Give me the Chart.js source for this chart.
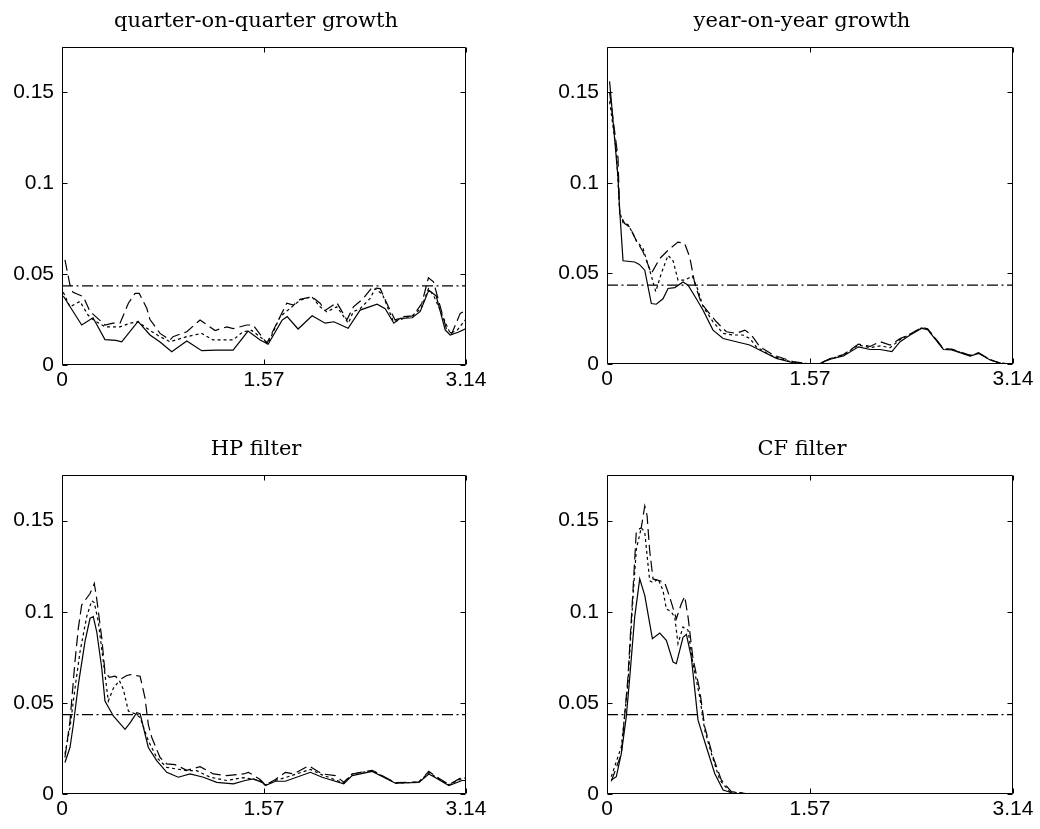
<!DOCTYPE html>
<html>
<head>
<meta charset="utf-8">
<script src="https://cdn.jsdelivr.net/npm/chart.js@4"></script>
<style>
  html, body { margin: 0; padding: 0; background: #fff; width: 1040px; height: 829px; overflow: hidden; }
  body { position: relative; }
  canvas { position: absolute; }
  .title { position: absolute; font-family: 'DejaVu Serif', 'Liberation Serif', serif; font-size: 21px;
           color: #000; text-align: center; white-space: nowrap; line-height: 1; z-index: 2; }
</style>
</head>
<body>
<script>
// Axis ticks shared by all four panels
const xTicks = [0, 1.57, 3.14];
const xTickLabels = ['0', '1.57', '3.14'];
const yTicks = [0, 0.05, 0.1, 0.15];
const yTickLabels = ['0', '0.05', '0.1', '0.15'];

// Reference level drawn as the dash-dot line
const refLevel = 0.0435;

// Spectral curves: [frequency, value] pairs
const qoqSolid = [[0.01,0.038],[0.153,0.022],[0.241,0.026],[0.334,0.014],[0.42,0.0135],[0.464,0.0127],[0.591,0.024],[0.684,0.0165],[0.762,0.0127],[0.853,0.0073],[0.97,0.0132],[1.086,0.0079],[1.198,0.0082],[1.33,0.0082],[1.446,0.0187],[1.54,0.0138],[1.602,0.0114],[1.711,0.0247],[1.75,0.0266],[1.835,0.0198],[1.944,0.0271],[2.045,0.023],[2.113,0.0238],[2.224,0.0202],[2.317,0.0302],[2.449,0.0335],[2.512,0.031],[2.579,0.023],[2.628,0.0257],[2.722,0.026],[2.784,0.0295],[2.851,0.0412],[2.908,0.038],[2.978,0.0193],[3.017,0.0165],[3.079,0.018],[3.14,0.020]];
const qoqDotted = [[0.01,0.040],[0.062,0.032],[0.14,0.035],[0.202,0.0275],[0.241,0.025],[0.334,0.021],[0.451,0.021],[0.529,0.023],[0.591,0.0238],[0.684,0.019],[0.762,0.0156],[0.84,0.0128],[0.97,0.0156],[1.086,0.0174],[1.174,0.0138],[1.33,0.0138],[1.407,0.0183],[1.475,0.019],[1.54,0.0155],[1.602,0.0119],[1.695,0.0266],[1.773,0.0312],[1.851,0.0357],[1.942,0.0376],[2.006,0.032],[2.058,0.0293],[2.136,0.032],[2.226,0.023],[2.263,0.0293],[2.317,0.031],[2.395,0.0367],[2.434,0.042],[2.49,0.039],[2.576,0.0238],[2.63,0.025],[2.729,0.0275],[2.79,0.031],[2.848,0.042],[2.89,0.038],[3.017,0.0174],[3.07,0.019],[3.134,0.0248]];
const qoqDashed = [[0.023,0.0578],[0.062,0.044],[0.086,0.040],[0.166,0.0376],[0.218,0.0293],[0.241,0.028],[0.334,0.022],[0.397,0.023],[0.451,0.023],[0.516,0.034],[0.568,0.0394],[0.60,0.0394],[0.659,0.0312],[0.684,0.025],[0.762,0.0174],[0.84,0.0138],[0.863,0.0156],[0.97,0.0183],[1.073,0.0248],[1.19,0.019],[1.281,0.021],[1.33,0.020],[1.436,0.022],[1.485,0.022],[1.592,0.0119],[1.747,0.034],[1.80,0.033],[1.851,0.0361],[1.942,0.0376],[2.006,0.034],[2.045,0.030],[2.136,0.0343],[2.214,0.0248],[2.265,0.032],[2.343,0.0367],[2.408,0.0425],[2.473,0.042],[2.537,0.032],[2.589,0.0248],[2.654,0.0266],[2.729,0.027],[2.797,0.034],[2.848,0.048],[2.887,0.0458],[2.991,0.019],[3.03,0.0174],[3.095,0.0284],[3.14,0.030]];

const yoySolid = [[0.02,0.156],[0.085,0.103],[0.098,0.085],[0.124,0.057],[0.214,0.0563],[0.25,0.055],[0.292,0.0518],[0.343,0.0334],[0.381,0.033],[0.433,0.036],[0.472,0.0417],[0.524,0.0422],[0.588,0.0453],[0.627,0.0435],[0.691,0.036],[0.743,0.0297],[0.82,0.0187],[0.898,0.0141],[1.0,0.0123],[1.104,0.0105],[1.207,0.0068],[1.31,0.0031],[1.439,0.0007],[1.571,0],[1.635,0],[1.726,0.0026],[1.829,0.0044],[1.945,0.0095],[2.035,0.008],[2.112,0.008],[2.203,0.0068],[2.267,0.0123],[2.345,0.016],[2.435,0.0197],[2.48,0.019],[2.602,0.008],[2.667,0.0078],[2.809,0.0044],[2.873,0.0059],[2.964,0.0022],[3.041,0.0004],[3.14,0]];
const yoyDotted = [[0.02,0.145],[0.072,0.118],[0.098,0.084],[0.124,0.078],[0.162,0.077],[0.201,0.072],[0.227,0.068],[0.279,0.0637],[0.33,0.0518],[0.377,0.040],[0.42,0.050],[0.472,0.060],[0.511,0.057],[0.549,0.0463],[0.601,0.0463],[0.66,0.0485],[0.704,0.0408],[0.743,0.0316],[0.82,0.0233],[0.898,0.0169],[0.975,0.016],[1.052,0.016],[1.104,0.0141],[1.155,0.0095],[1.259,0.005],[1.414,0.0013],[1.571,0],[1.635,0],[1.726,0.0028],[1.829,0.005],[1.945,0.0105],[2.035,0.009],[2.112,0.010],[2.19,0.009],[2.267,0.0135],[2.345,0.0165],[2.435,0.020],[2.48,0.0192],[2.602,0.0082],[2.667,0.008],[2.809,0.0046],[2.873,0.006],[2.964,0.0023],[3.041,0.0005],[3.14,0]];
const yoyDashed = [[0.02,0.150],[0.085,0.114],[0.098,0.083],[0.137,0.0775],[0.176,0.0756],[0.227,0.068],[0.279,0.062],[0.343,0.050],[0.408,0.0582],[0.472,0.0628],[0.549,0.0673],[0.601,0.0665],[0.64,0.059],[0.679,0.0444],[0.73,0.0334],[0.782,0.0288],[0.846,0.0233],[0.923,0.0178],[1.0,0.0169],[1.066,0.0187],[1.117,0.016],[1.182,0.0095],[1.285,0.005],[1.439,0.0013],[1.571,0],[1.635,0],[1.726,0.003],[1.829,0.0052],[1.945,0.011],[2.035,0.0097],[2.112,0.0123],[2.19,0.0105],[2.267,0.014],[2.345,0.0165],[2.435,0.0202],[2.48,0.0195],[2.602,0.0085],[2.667,0.0082],[2.809,0.0048],[2.873,0.0062],[2.964,0.0024],[3.041,0.0005],[3.14,0]];

const hpSolid = [[0.023,0.0173],[0.062,0.0255],[0.088,0.038],[0.127,0.060],[0.179,0.0837],[0.218,0.0964],[0.243,0.0973],[0.27,0.089],[0.309,0.069],[0.334,0.051],[0.399,0.0428],[0.49,0.0355],[0.529,0.039],[0.581,0.0446],[0.607,0.044],[0.671,0.0255],[0.736,0.0183],[0.814,0.0119],[0.904,0.0092],[0.995,0.011],[1.099,0.0092],[1.203,0.0064],[1.332,0.0056],[1.423,0.0074],[1.488,0.0083],[1.555,0.0064],[1.581,0.0046],[1.659,0.007],[1.736,0.007],[1.931,0.0119],[2.022,0.0092],[2.19,0.0056],[2.255,0.0101],[2.411,0.0124],[2.592,0.0059],[2.774,0.0063],[2.851,0.011],[2.9,0.009],[3.007,0.0046],[3.11,0.0074],[3.14,0.0074]];
const hpDotted = [[0.023,0.022],[0.062,0.0364],[0.101,0.058],[0.14,0.078],[0.192,0.0973],[0.231,0.106],[0.251,0.105],[0.282,0.0946],[0.321,0.0728],[0.36,0.051],[0.399,0.058],[0.446,0.0622],[0.477,0.0573],[0.516,0.0455],[0.568,0.044],[0.607,0.042],[0.671,0.0292],[0.736,0.020],[0.814,0.0146],[0.892,0.0137],[0.97,0.0128],[1.047,0.0128],[1.151,0.0092],[1.281,0.0074],[1.41,0.009],[1.54,0.0074],[1.581,0.005],[1.659,0.0075],[1.736,0.009],[1.931,0.0135],[2.022,0.0105],[2.19,0.006],[2.255,0.011],[2.411,0.0128],[2.592,0.006],[2.774,0.0065],[2.851,0.0118],[2.9,0.0095],[3.007,0.005],[3.11,0.0085],[3.14,0.0088]];
const hpDashed = [[0.023,0.020],[0.062,0.040],[0.101,0.0728],[0.127,0.091],[0.153,0.1037],[0.218,0.11],[0.251,0.1155],[0.27,0.107],[0.309,0.0855],[0.334,0.067],[0.368,0.064],[0.412,0.0646],[0.451,0.0628],[0.503,0.065],[0.534,0.0655],[0.607,0.0646],[0.645,0.0528],[0.671,0.038],[0.698,0.031],[0.762,0.020],[0.814,0.0165],[0.879,0.0161],[0.97,0.013],[1.073,0.015],[1.177,0.011],[1.281,0.0101],[1.41,0.011],[1.449,0.0119],[1.54,0.008],[1.581,0.005],[1.659,0.008],[1.736,0.0119],[1.80,0.011],[1.918,0.0155],[2.022,0.011],[2.125,0.0101],[2.19,0.0065],[2.255,0.011],[2.411,0.013],[2.592,0.0062],[2.774,0.0066],[2.851,0.0124],[2.9,0.010],[3.007,0.0052],[3.11,0.0092],[3.14,0.0095]];

const cfSolid = [[0.033,0.0077],[0.072,0.0095],[0.111,0.0223],[0.149,0.0423],[0.176,0.064],[0.214,0.097],[0.253,0.118],[0.292,0.109],[0.351,0.0852],[0.408,0.0883],[0.459,0.0843],[0.511,0.0724],[0.536,0.0715],[0.588,0.086],[0.614,0.0876],[0.652,0.0751],[0.704,0.0405],[0.768,0.0259],[0.833,0.0113],[0.898,0.0022],[0.975,0.0004],[1.1,0]];
const cfDotted = [[0.033,0.0095],[0.111,0.026],[0.162,0.0606],[0.201,0.108],[0.227,0.1345],[0.265,0.146],[0.292,0.1436],[0.33,0.117],[0.356,0.116],[0.395,0.118],[0.433,0.1117],[0.459,0.1016],[0.498,0.0998],[0.524,0.097],[0.549,0.0825],[0.588,0.0916],[0.627,0.0898],[0.665,0.0715],[0.717,0.0533],[0.756,0.035],[0.807,0.0223],[0.872,0.0077],[0.949,0.0013],[1.1,0]];
const cfDashed = [[0.033,0.007],[0.111,0.022],[0.162,0.064],[0.201,0.1117],[0.227,0.1445],[0.265,0.146],[0.292,0.158],[0.31,0.1527],[0.33,0.1335],[0.356,0.118],[0.408,0.117],[0.446,0.116],[0.485,0.108],[0.524,0.0989],[0.536,0.096],[0.575,0.1044],[0.601,0.1084],[0.627,0.097],[0.665,0.0743],[0.717,0.057],[0.756,0.0368],[0.82,0.0204],[0.884,0.0077],[0.962,0.0013],[1.1,0]];

// Panel layout: plot box as [left, top, right, bottom]
const panels = [
  { title: 'quarter-on-quarter growth', box: [62, 47, 466, 365],  curves: [qoqSolid, qoqDotted, qoqDashed] },
  { title: 'year-on-year growth',       box: [607, 47, 1013, 364], curves: [yoySolid, yoyDotted, yoyDashed] },
  { title: 'HP filter',                 box: [62, 475, 466, 794],  curves: [hpSolid, hpDotted, hpDashed] },
  { title: 'CF filter',                 box: [607, 475, 1013, 794], curves: [cfSolid, cfDotted, cfDashed] }
];

const lineStyles = [[], [3, 3], [11, 5]];
const refDash = [11, 3.5, 2, 3.5];
const tickFont = { family: "'Liberation Sans', Arial, sans-serif", size: 21 };

// Box around the plot area with inward tick marks on all four sides
const framePlugin = {
  id: 'frame',
  afterDraw(chart) {
    const { ctx, chartArea: a, scales } = chart;
    const L = Math.round(a.left) + 0.5, R = Math.round(a.right) - 0.5;
    const T = Math.round(a.top) + 0.5, B = Math.round(a.bottom) - 0.5;
    const len = 5;
    ctx.save();
    ctx.strokeStyle = '#000';
    ctx.lineWidth = 1;
    ctx.beginPath();
    ctx.rect(L, T, R - L, B - T);
    scales.x.ticks.forEach(t => {
      const px = Math.round(scales.x.getPixelForValue(t.value)) + 0.5;
      ctx.moveTo(px, B); ctx.lineTo(px, B - len);
      ctx.moveTo(px, T); ctx.lineTo(px, T + len);
    });
    scales.y.ticks.forEach(t => {
      const py = Math.round(scales.y.getPixelForValue(t.value)) + 0.5;
      ctx.moveTo(L, py); ctx.lineTo(L + len, py);
      ctx.moveTo(R, py); ctx.lineTo(R - len, py);
    });
    ctx.stroke();
    ctx.restore();
  }
};

function toPoints(pairs) { return pairs.map(p => ({ x: p[0], y: p[1] })); }

panels.forEach(p => {
  const [L, T, R, B] = p.box;
  const padL = 62, padT = 47, padR = 32, padB = 45;
  const cw = (R - L) + padL + padR, ch = (B - T) + padT + padB;

  const title = document.createElement('div');
  title.className = 'title';
  title.textContent = p.title;
  title.style.left = (L - 8) + 'px';
  title.style.width = (R - L) + 'px';
  title.style.top = (T - 37.5) + 'px';
  document.body.appendChild(title);

  const cv = document.createElement('canvas');
  cv.width = cw; cv.height = ch;
  cv.style.width = cw + 'px'; cv.style.height = ch + 'px';
  cv.style.left = (L - padL) + 'px'; cv.style.top = (T - padT) + 'px';
  document.body.appendChild(cv);

  const datasets = p.curves.map((c, i) => ({
    data: toPoints(c), borderColor: '#000', borderWidth: 1.2, borderDash: lineStyles[i],
    pointRadius: 0, fill: false, tension: 0
  }));
  datasets.push({
    data: [{ x: 0, y: refLevel }, { x: 3.14, y: refLevel }],
    borderColor: '#000', borderWidth: 1.2, borderDash: refDash, pointRadius: 0, fill: false
  });

  new Chart(cv, {
    type: 'line',
    data: { datasets },
    options: {
      responsive: false, animation: false, devicePixelRatio: 1,
      layout: { padding: { left: 0, top: padT, right: padR, bottom: 0 } },
      plugins: { legend: { display: false }, tooltip: { enabled: false }, title: { display: false } },
      scales: {
        x: {
          type: 'linear', min: 0, max: 3.14,
          afterBuildTicks(s) { s.ticks = xTicks.map(v => ({ value: v })); },
          afterFit(s) { s.height = padB; },
          grid: { display: false, drawTicks: false }, border: { display: false },
          ticks: { color: '#000', font: tickFont, padding: 3, maxRotation: 0, autoSkip: false,
                   callback: (v, i) => xTickLabels[i] }
        },
        y: {
          type: 'linear', min: 0, max: 0.175,
          afterBuildTicks(s) { s.ticks = yTicks.map(v => ({ value: v })); },
          afterFit(s) { s.width = padL; },
          grid: { display: false, drawTicks: false }, border: { display: false },
          ticks: { color: '#000', font: tickFont, padding: 8, autoSkip: false,
                   callback: (v, i) => yTickLabels[i] }
        }
      }
    },
    plugins: [framePlugin]
  });
});
</script>
</body>
</html>
